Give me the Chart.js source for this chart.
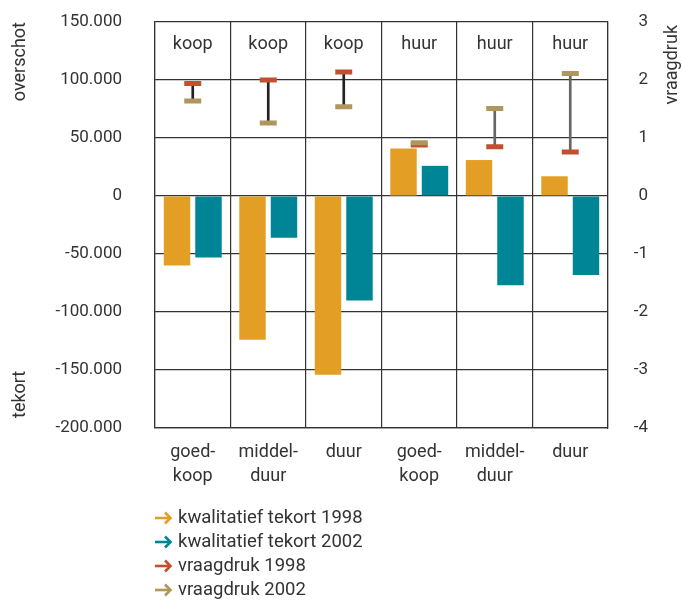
<!DOCTYPE html>
<html>
<head>
<meta charset="utf-8">
<script src="https://cdn.jsdelivr.net/npm/chart.js@4"></script>
<style>
html,body{margin:0;padding:0;background:#fff;}
#wrap{position:relative;width:682px;height:600px;}
</style>
</head>
<body>
<div id="wrap"><canvas id="c" width="682" height="600"></canvas></div>
<script>
// ---- data ----
const categories = [["goed-","koop"],["middel-","duur"],["duur"],["goed-","koop"],["middel-","duur"],["duur"]];
const topLabels = ["koop","koop","koop","huur","huur","huur"];
const tekort1998 = [-60000, -124000, -154000, 41000, 31000, 17000];
const tekort2002 = [-53000, -36000, -90000, 26000, -77000, -68000];
const vraagdruk1998 = [1.94, 2.0, 2.14, 0.88, 0.85, 0.76];
const vraagdruk2002 = [1.64, 1.26, 1.54, 0.92, 1.51, 2.11];
const leftTickLabels = {"150000":"150.000","100000":"100.000","50000":"50.000","0":"0","-50000":"-50.000","-100000":"-100.000","-150000":"-150.000","-200000":"-200.000"};
const rightTickLabels = {"3":"3","2":"2","1":"1","0":"0","-1":"-1","-2":"-2","-3":"-3","-4":"-4"};
const seriesNames = ["kwalitatief tekort 1998","kwalitatief tekort 2002","vraagdruk 1998","vraagdruk 2002"];
const colors = {o:"#E29E25", t:"#008596", r:"#C24F30", b:"#AE965C"};
const txt = "#333333";
const FONT = "Roboto, 'Noto Sans', sans-serif";

const connector = vraagdruk1998.map((v,i)=>[v, vraagdruk2002[i]]);

const extras = {
  id:'extras',
  afterDraw(chart){
    const ctx = chart.ctx;
    const xs = chart.scales.x;
    const area = chart.chartArea;
    ctx.save();
    ctx.fillStyle = txt;
    ctx.font = "18px " + FONT;
    ctx.textAlign = "center";
    ctx.textBaseline = "middle";
    topLabels.forEach((l,i)=>{
      ctx.fillText(l, xs.getPixelForValue(i), area.top + 22);
    });
    // axis titles
    const rot = (text, x, y, align)=>{
      ctx.save();
      ctx.translate(x, y);
      ctx.rotate(-Math.PI/2);
      ctx.textAlign = align;
      ctx.textBaseline = "middle";
      ctx.fillText(text, 0, 0);
      ctx.restore();
    };
    rot("overschot", 20, 22, "right");
    rot("tekort", 20, 418, "left");
    rot("vraagdruk", 672, 25, "right");
    // legend
    const cols = [colors.o, colors.t, colors.r, colors.b];
    seriesNames.forEach((n,i)=>{
      const y = 518 + i*24;
      ctx.strokeStyle = cols[i];
      ctx.lineWidth = 2.6;
      ctx.lineCap = "butt";
      ctx.lineJoin = "miter";
      ctx.beginPath();
      ctx.moveTo(155, y); ctx.lineTo(170, y);
      ctx.stroke();
      ctx.beginPath();
      ctx.moveTo(165, y-5.5); ctx.lineTo(170.5, y); ctx.lineTo(165, y+5.5);
      ctx.stroke();
      ctx.fillStyle = txt;
      ctx.textAlign = "left";
      ctx.textBaseline = "middle";
      ctx.font = "18.5px " + FONT;
      ctx.fillText(n, 178, y);
    });
    ctx.restore();
  }
};

new Chart(document.getElementById('c'), {
  type: 'bar',
  data: {
    labels: categories,
    datasets: [
      {label: seriesNames[3], type:'line', data: vraagdruk2002, yAxisID:'y2', showLine:false,
       pointStyle:'line', pointRadius:8.5, pointBorderWidth:5, pointBorderColor:colors.b, borderColor:colors.b,
       pointHoverRadius:8.5, order:0},
      {label: seriesNames[2], type:'line', data: vraagdruk1998, yAxisID:'y2', showLine:false,
       pointStyle:'line', pointRadius:8.5, pointBorderWidth:5, pointBorderColor:colors.r, borderColor:colors.r,
       pointHoverRadius:8.5, order:1},
      {label: 'verbinding', data: connector, yAxisID:'y2', grouped:false, barThickness:2,
       backgroundColor:['#222','#222','#222','#444','#666','#666'], order:2},
      {label: seriesNames[0], data: tekort1998, yAxisID:'y', backgroundColor: colors.o,
       categoryPercentage:0.834, barPercentage:0.84, order:3},
      {label: seriesNames[1], data: tekort2002, yAxisID:'y', backgroundColor: colors.t,
       categoryPercentage:0.834, barPercentage:0.84, order:3}
    ]
  },
  options: {
    responsive:false,
    animation:false,
    events:[],
    layout:{padding:{top:22, left:0, right:34, bottom:0}},
    plugins:{legend:{display:false}, tooltip:{enabled:false}},
    scales:{
      x:{
        offset:true,
        grid:{display:true, offset:true, color:'#333', lineWidth:1.2, drawTicks:false},
        border:{display:true, color:'#333', width:1.2},
        ticks:{color:txt, font:{family:FONT, size:18, lineHeight:1.35}, padding:12, maxRotation:0, autoSkip:false},
        afterFit(s){ s.height = 172; }
      },
      y:{
        position:'left',
        min:-200000, max:150000,
        grid:{color:'#333', lineWidth:1.2, drawTicks:false},
        border:{display:true, color:'#333', width:1.2},
        ticks:{stepSize:50000, color:txt, font:{family:FONT, size:17}, padding:33,
               callback:(v)=>leftTickLabels[String(v)]},
        afterFit(s){ s.width = 155; s.paddingTop = 0; s.paddingBottom = 0; }
      },
      y2:{
        position:'right',
        min:-4, max:3,
        grid:{display:false, drawTicks:false},
        border:{display:true, color:'#333', width:1.2},
        ticks:{stepSize:1, color:txt, font:{family:FONT, size:17}, padding:24, crossAlign:'far',
               callback:(v)=>rightTickLabels[String(v)]},
        afterFit(s){ s.width = 40; s.paddingTop = 0; s.paddingBottom = 0; }
      }
    }
  },
  plugins:[extras]
});
</script>
</body>
</html>
